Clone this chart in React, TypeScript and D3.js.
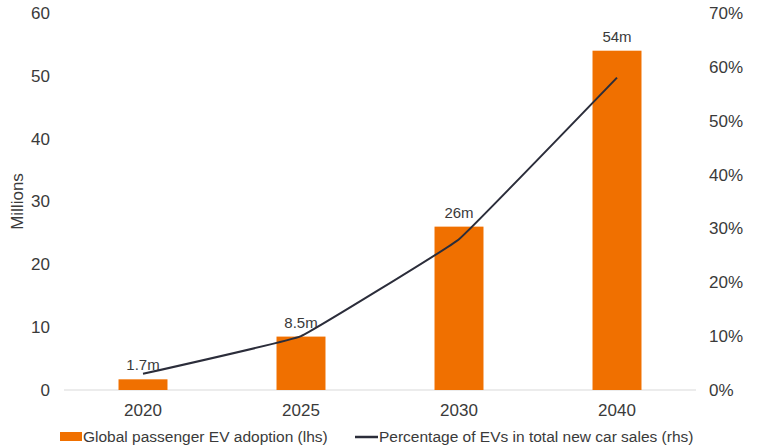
import * as d3 from "d3"

const years = ["2020", "2025", "2030", "2040"]
const evMillions = [1.7, 8.5, 26, 54]
const evLabels = ["1.7m", "8.5m", "26m", "54m"]
const evShare = [3, 10, 28, 58]
const leftTicks = [0, 10, 20, 30, 40, 50, 60]
const rightTicks = [0, 10, 20, 30, 40, 50, 60, 70]

const width = 760
const height = 448
const margin = { top: 13, right: 64, bottom: 58, left: 64 }
const font = "'Liberation Sans', Arial, sans-serif"
const textColor = "#3a3a3a"
const orange = "#f07000"
const lineColor = "#2b2d3a"

export default function App() {
  const x = d3
    .scaleBand()
    .domain(years)
    .range([margin.left, width - margin.right])
    .paddingInner(0.69)
    .paddingOuter(0.345)
  const yL = d3.scaleLinear().domain([0, 60]).range([height - margin.bottom, margin.top])
  const yR = d3.scaleLinear().domain([0, 70]).range([height - margin.bottom, margin.top])

  const cx = (y: string) => (x(y) ?? 0) + x.bandwidth() / 2
  const line = d3
    .line<number>()
    .x((_, i) => cx(years[i]))
    .y((d) => yR(d))
    .curve(d3.curveCardinal.tension(0.8))

  const base = yL(0)

  return (
    <svg
      width={width}
      height={height}
      style={{ position: "absolute", left: 0, top: 0, fontFamily: font }}
    >
      <rect width={width} height={height} fill="#fff" />
      <line x1={margin.left} x2={width - margin.right} y1={base} y2={base} stroke="#d9d9d9" />

      {leftTicks.map((t) => (
        <text key={t} x={50} y={yL(t)} dy="0.35em" textAnchor="end" fontSize={17} fill={textColor}>
          {t}
        </text>
      ))}
      {rightTicks.map((t) => (
        <text key={t} x={709} y={yR(t)} dy="0.35em" textAnchor="start" fontSize={17} fill={textColor}>
          {t}%
        </text>
      ))}
      <text
        transform={`translate(17,${(margin.top + base) / 2}) rotate(-90)`}
        textAnchor="middle"
        dy="0.35em"
        fontSize={17}
        fill={textColor}
      >
        Millions
      </text>

      {years.map((y, i) => (
        <g key={y}>
          <rect
            x={x(y)}
            y={yL(evMillions[i])}
            width={x.bandwidth()}
            height={base - yL(evMillions[i])}
            fill={orange}
          />
          <text x={cx(y)} y={yL(evMillions[i]) - 9} textAnchor="middle" fontSize={15} fill={textColor}>
            {evLabels[i]}
          </text>
          <text x={cx(y)} y={base + 20} dy="0.35em" textAnchor="middle" fontSize={17} fill={textColor}>
            {y}
          </text>
        </g>
      ))}

      <path d={line(evShare) ?? undefined} fill="none" stroke={lineColor} strokeWidth={2} />

      <g fontSize={15.5} fill={textColor}>
        <rect x={60} y={432} width={22} height={9} fill={orange} />
        <text x={83} y={437} dy="0.35em">Global passenger EV adoption (lhs)</text>
        <line x1={355} x2={378} y1={437} y2={437} stroke={lineColor} strokeWidth={2.5} />
        <text x={379} y={437} dy="0.35em">Percentage of EVs in total new car sales (rhs)</text>
      </g>
    </svg>
  )
}
